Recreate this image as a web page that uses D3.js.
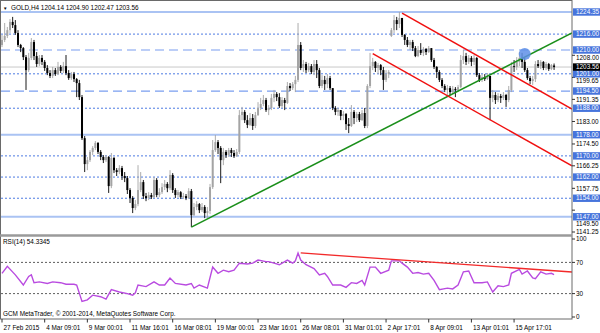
<!DOCTYPE html>
<html>
<head>
<meta charset="utf-8">
<script src="https://cdnjs.cloudflare.com/ajax/libs/d3/7.8.5/d3.min.js"></script>
<style>
  body { margin: 0; background: #fff; }
  text { font-family: "Liberation Sans", Arial, sans-serif; font-size: 6.4px; }
</style>
</head>
<body>
<div id="chart"></div>
<script>
// GOLD H4, 27 Feb - 17 Apr 2015
const titleText = "GOLD,H4 1204.14 1204.90 1202.47 1203.56";
const rsiTitle = "RSI(14) 54.3345";
const copyright = "GCM MetaTrader, \u00a9 2001-2014, MetaQuotes Software Corp.";

const opens = [1211.9,1213.8,1215.3,1217.5,1220.6,1219.4,1216.4,1211.9,1210.7,1207.3,
1202.4,1207.0,1213.0,1207.7,1204.7,1207.0,1205.5,1203.2,1201.3,1200.2,
1202.4,1200.9,1203.6,1202.1,1203.9,1201.3,1199.4,1200.9,1199.0,1197.5,
1192.2,1176.7,1166.9,1168.4,1171.5,1173.0,1174.9,1171.5,1169.6,1168.4,
1169.6,1158.6,1169.2,1164.6,1163.9,1165.4,1162.4,1161.6,1157.1,1154.1,
1150.3,1151.8,1157.1,1160.1,1154.8,1154.1,1155.2,1154.4,1160.9,1155.2,
1156.3,1158.2,1159.4,1157.8,1162.8,1157.1,1155.2,1156.3,1154.4,1154.8,
1154.1,1156.7,1147.6,1150.7,1151.8,1149.5,1150.7,1148.4,1149.2,1158.2,
1172.2,1175.2,1173.0,1168.4,1171.5,1170.3,1172.2,1171.1,1169.9,1171.5,
1185.4,1186.6,1183.5,1181.7,1184.3,1181.3,1185.4,1188.1,1189.6,1191.1,
1187.3,1188.1,1191.9,1193.4,1192.2,1188.8,1191.1,1190.0,1196.4,1195.6,
1197.1,1198.7,1211.9,1203.2,1204.7,1202.4,1203.9,1201.7,1204.7,1202.4,
1196.4,1198.7,1197.1,1199.4,1195.6,1188.1,1186.6,1187.3,1185.1,1185.8,
1182.0,1181.3,1186.6,1184.3,1185.8,1183.5,1186.2,1181.3,1196.4,1203.9,
1205.5,1203.2,1204.3,1202.4,1198.7,1200.9,1215.3,1217.5,1221.3,1219.8,
1222.1,1215.7,1213.8,1211.9,1213.0,1210.7,1207.7,1210.0,1208.9,1210.4,
1209.2,1210.7,1206.2,1203.6,1201.7,1198.7,1196.4,1194.9,1195.6,1194.1,
1195.3,1194.9,1196.0,1206.2,1207.7,1205.5,1207.0,1205.5,1207.0,1200.5,
1198.7,1199.8,1199.0,1200.2,1191.9,1193.0,1191.1,1192.6,1191.9,1193.0,
1191.1,1194.9,1203.9,1203.6,1205.5,1207.0,1205.5,1202.4,1199.4,1198.3,
1199.0,1204.7,1203.9,1205.5,1203.2,1204.7,1202.8,1204.14];

const highs = [1215.7,1220.2,1218.7,1221.7,1222.5,1221.3,1217.5,1212.3,1211.1,1208.1,
1208.9,1214.5,1213.8,1209.2,1208.1,1208.1,1206.2,1204.3,1202.4,1203.6,
1203.2,1205.5,1204.3,1205.5,1208.1,1202.4,1201.7,1201.7,1199.4,1198.7,
1193.0,1177.5,1169.6,1172.2,1173.7,1175.6,1175.2,1172.2,1170.3,1170.3,
1169.9,1171.1,1169.6,1165.4,1166.5,1166.2,1163.9,1162.4,1157.8,1154.8,
1153.3,1166.5,1163.9,1160.9,1156.0,1156.3,1156.0,1162.0,1161.6,1157.8,
1159.7,1160.9,1160.1,1164.6,1163.5,1157.8,1157.1,1156.7,1156.0,1155.6,
1157.8,1157.5,1152.2,1152.9,1152.2,1152.2,1151.4,1150.7,1159.4,1176.0,
1177.9,1176.0,1173.7,1173.0,1172.2,1173.0,1173.0,1172.2,1172.6,1187.3,
1188.5,1187.3,1185.4,1186.2,1185.8,1186.6,1190.3,1191.9,1193.0,1191.9,
1189.2,1193.4,1194.9,1194.1,1193.7,1192.2,1191.9,1197.9,1197.5,1197.9,
1200.2,1220.2,1213.0,1206.2,1205.5,1205.1,1204.7,1206.2,1206.2,1203.2,
1200.5,1200.2,1200.9,1200.2,1195.6,1188.8,1188.1,1187.3,1186.9,1186.2,
1184.3,1189.2,1187.3,1186.6,1186.6,1187.3,1188.1,1197.1,1208.9,1207.0,
1205.8,1205.1,1204.7,1203.6,1202.4,1202.4,1218.3,1223.2,1222.5,1224.35,
1222.1,1216.0,1214.9,1213.8,1213.8,1211.5,1211.5,1212.6,1211.1,1210.7,
1211.5,1210.7,1207.0,1203.9,1202.4,1199.4,1197.1,1196.8,1196.4,1196.4,
1196.0,1196.8,1208.1,1210.0,1208.9,1208.1,1207.7,1208.1,1207.3,1201.3,
1200.9,1200.9,1201.3,1200.2,1194.9,1194.1,1193.7,1193.4,1194.1,1193.4,
1196.4,1205.5,1206.2,1207.3,1209.2,1208.9,1207.0,1203.2,1200.2,1200.2,
1205.8,1206.2,1206.2,1205.8,1205.5,1205.1,1204.7,1204.90];

const lows = [1211.1,1213.0,1214.5,1216.4,1218.3,1215.7,1211.1,1209.2,1206.2,1194.9,
1201.7,1206.2,1206.2,1203.6,1203.9,1204.3,1202.1,1200.5,1199.4,1199.4,
1200.2,1200.5,1201.3,1201.3,1200.5,1198.7,1198.7,1197.9,1192.2,1191.1,
1176.0,1163.9,1164.6,1167.7,1170.3,1172.2,1170.7,1168.4,1167.3,1167.7,
1156.0,1157.8,1163.5,1162.4,1163.1,1160.9,1160.1,1155.6,1152.2,1148.4,
1149.5,1151.0,1156.3,1153.7,1152.9,1153.3,1153.7,1154.1,1154.4,1154.4,
1155.6,1157.1,1156.3,1157.1,1156.0,1154.1,1154.4,1153.7,1153.7,1153.3,
1153.7,1143.1,1147.3,1149.5,1148.4,1148.8,1146.5,1146.5,1148.0,1157.5,
1171.5,1170.7,1159.7,1166.5,1169.2,1169.6,1169.6,1169.2,1169.6,1170.7,
1183.5,1182.4,1180.5,1181.3,1179.8,1180.5,1185.1,1187.3,1188.8,1186.6,
1185.4,1187.3,1190.3,1190.7,1188.1,1188.1,1187.3,1189.6,1194.5,1194.9,
1194.1,1197.9,1202.4,1201.7,1201.3,1201.7,1200.9,1200.5,1199.4,1195.6,
1195.6,1194.9,1195.6,1194.9,1187.3,1185.4,1185.1,1183.5,1183.5,1179.8,
1178.6,1180.9,1182.0,1182.8,1182.8,1183.2,1180.5,1180.5,1195.6,1202.4,
1201.7,1200.9,1200.5,1194.9,1197.9,1199.4,1214.9,1216.4,1217.5,1218.3,
1214.9,1211.9,1211.1,1210.0,1209.6,1207.3,1207.3,1208.1,1207.7,1208.1,
1208.9,1205.5,1202.8,1199.4,1197.9,1195.6,1194.1,1193.0,1193.0,1193.4,
1192.2,1194.1,1195.6,1204.7,1204.3,1204.7,1203.9,1204.3,1199.8,1197.9,
1197.9,1198.3,1198.7,1183.5,1190.3,1189.6,1190.3,1190.0,1191.1,1188.5,
1190.3,1194.1,1201.7,1202.4,1203.9,1203.2,1201.7,1198.7,1197.1,1196.8,
1197.9,1203.2,1202.8,1202.4,1202.4,1202.1,1202.4,1202.47];

const closes = [1213.8,1215.3,1217.5,1220.6,1219.4,1216.4,1211.9,1210.7,1207.3,1202.4,
1207.0,1213.0,1207.7,1204.7,1207.0,1205.5,1203.2,1201.3,1200.2,1202.4,
1200.9,1203.6,1202.1,1203.9,1201.3,1199.4,1200.9,1199.0,1197.5,1192.2,
1176.7,1166.9,1168.4,1171.5,1173.0,1174.9,1171.5,1169.6,1168.4,1169.6,
1158.6,1169.2,1164.6,1163.9,1165.4,1162.4,1161.6,1157.1,1154.1,1150.3,
1151.8,1157.1,1160.1,1154.8,1154.1,1155.2,1154.4,1160.9,1155.2,1156.3,
1158.2,1159.4,1157.8,1162.8,1157.1,1155.2,1156.3,1154.4,1154.8,1154.1,
1156.7,1147.6,1150.7,1151.8,1149.5,1150.7,1148.4,1149.2,1158.2,1172.2,
1175.2,1173.0,1168.4,1171.5,1170.3,1172.2,1171.1,1169.9,1171.5,1185.4,
1186.6,1183.5,1181.7,1184.3,1181.3,1185.4,1188.1,1189.6,1191.1,1187.3,
1188.1,1191.9,1193.4,1192.2,1188.8,1191.1,1190.0,1196.4,1195.6,1197.1,
1198.7,1211.9,1203.2,1204.7,1202.4,1203.9,1201.7,1204.7,1202.4,1196.4,
1198.7,1197.1,1199.4,1195.6,1188.1,1186.6,1187.3,1185.1,1185.8,1182.0,
1181.3,1186.6,1184.3,1185.8,1183.5,1186.2,1181.3,1196.4,1203.9,1205.5,
1203.2,1204.3,1202.4,1198.7,1200.9,1201.7,1217.5,1221.3,1219.8,1222.1,
1215.7,1213.8,1211.9,1213.0,1210.7,1207.7,1210.0,1208.9,1210.4,1209.2,
1210.7,1206.2,1203.6,1201.7,1198.7,1196.4,1194.9,1195.6,1194.1,1195.3,
1194.9,1196.0,1206.2,1207.7,1205.5,1207.0,1205.5,1207.0,1200.5,1198.7,
1199.8,1199.0,1200.2,1191.9,1193.0,1191.1,1192.6,1191.9,1193.0,1191.1,
1194.9,1203.9,1203.6,1205.5,1207.0,1205.5,1202.4,1199.4,1198.3,1199.0,
1204.7,1203.9,1205.5,1203.2,1204.7,1202.8,1204.3,1203.56];

// RSI(14) read at the turning points of the line
const rsiBars = [0,2,5,8,10,11,12,14,17,19,22,24,27,28,30,32,34,37,39,41,44,47,49,50,51,54,57,59,61,63,65,69,71,72,74,77,79,81,83,85,87,89,92,94,96,99,100,102,104,107,109,110,111,112,114,117,119,121,122,124,127,129,131,133,135,136,138,140,142,145,146,149,150,152,154,156,158,160,162,164,167,169,171,173,175,177,180,182,184,186,188,190,191,194,195,197,199,200,202,204,206,207];
const rsiValues = [56,65,54,41,52,54,44,45,43,45,44,42,42,41,20,22,28,26,23,35,32,30,28,31,41,39,45,41,41,50,43,41,43,37,41,37,64,56,60,58,60,69,68,69,73,71,71,69,67,73,69,72,82,73,67,62,54,56,52,41,41,38,44,43,47,41,64,64,56,60,72,72,69,64,56,57,55,56,47,35,37,36,41,58,59,44,44,45,32,40,39,41,56,61,55,59,50,49,58,55,56,54.33];

const solidLevels = [1224.35, 1178.00, 1147.00];
const dashedLevels = [1210.00, 1194.50];
const dottedLevels = [1216.00, 1201.00, 1188.00, 1170.00, 1162.00, 1154.00];
const lastPrice = 1203.56;
const priceTicks = [1208.00, 1199.65, 1191.35, 1183.00, 1174.50, 1166.25, 1157.75, 1149.50, 1141.25];
const rsiTicks = [100, 70, 30, 0];
const rsiLevels = [70, 30];
const timeLabels = ["27 Feb 2015", "4 Mar 09:01", "9 Mar 00:01", "11 Mar 16:01", "16 Mar 08:01", "19 Mar 00:01",
  "23 Mar 16:01", "26 Mar 08:01", "31 Mar 01:01", "2 Apr 17:01", "8 Apr 09:01", "13 Apr 01:01", "15 Apr 17:01"];
const timeLabelBars = [0, 16, 32, 48, 64, 80, 96, 112, 128, 144, 160, 176, 192];

// trend lines: two anchors [bar, price], drawn as rays to the right edge
const greenTrend = [[71, 1143.1], [200, 1209.4]];
const redUpper = [[150, 1223.9], [200, 1195.5]];
const redLower = [[139, 1208.6], [200, 1174.0]];
const rsiTrend = [[112, 82.1], [200, 61.0]];
const markBar = 196, markPrice = 1208.5;

// ---- layout
const W = 600, H = 333;
const plotR = 572, mainTop = 1, mainBottom = 235, rsiBottom = 319;
const boxH = 7.4;

const svg = d3.select("#chart").append("svg")
    .attr("width", W).attr("height", H)
    .style("display", "block");

svg.append("rect").attr("width", W).attr("height", H).attr("fill", "#fff");

const x = d3.scaleLinear().domain([0, closes.length - 1]).range([2, 2 + (closes.length - 1) * 2.667]);
const y = d3.scaleLinear().domain([1141.25, 1224.35]).range([232, 12]);
const ry = d3.scaleLinear().domain([0, 100]).range([317, 239]);

svg.append("clipPath").attr("id", "clipMain")
  .append("rect").attr("x", 1).attr("y", mainTop).attr("width", plotR - 1).attr("height", mainBottom - mainTop);
svg.append("clipPath").attr("id", "clipRsi")
  .append("rect").attr("x", 1).attr("y", mainBottom + 2).attr("width", plotR - 1).attr("height", rsiBottom - mainBottom - 2);

const main = svg.append("g").attr("clip-path", "url(#clipMain)");
const sub = svg.append("g").attr("clip-path", "url(#clipRsi)");

function hline(g, vals, scale, stroke, width, dash) {
  g.selectAll(null).data(vals).enter().append("line")
    .attr("x1", 1).attr("x2", plotR)
    .attr("y1", d => scale(d)).attr("y2", d => scale(d))
    .attr("stroke", stroke).attr("stroke-width", width)
    .attr("stroke-dasharray", dash);
}

hline(main, solidLevels, y, "#aac3f3", 2, null);
hline(main, dashedLevels, y, "#7a9ef0", 1.2, "9,5");
hline(main, dottedLevels, y, "#4d7be2", 1, "2,2");
hline(main, [lastPrice], y, "#c8c8c8", 1, null);

// candles
const bars = d3.range(closes.length).map(i => ({ i, o: opens[i], h: highs[i], l: lows[i], c: closes[i] }));
const upCol = "#a4a4a4", downCol = "#000";

main.selectAll(".wick").data(bars).enter().append("line")
  .attr("x1", d => x(d.i)).attr("x2", d => x(d.i))
  .attr("y1", d => y(d.h)).attr("y2", d => y(d.l))
  .attr("stroke", d => d.c >= d.o ? upCol : downCol)
  .attr("stroke-width", 0.9);

main.selectAll(".body").data(bars).enter().append("rect")
  .attr("x", d => x(d.i) - 1)
  .attr("y", d => y(Math.max(d.o, d.c)))
  .attr("width", 2)
  .attr("height", d => Math.max(0.8, Math.abs(y(d.o) - y(d.c))))
  .attr("fill", d => d.c >= d.o ? upCol : downCol);

function ray(pts, ys) {
  const x1 = x(pts[0][0]), y1 = ys(pts[0][1]);
  const x2 = x(pts[1][0]), y2 = ys(pts[1][1]);
  const k = (y2 - y1) / (x2 - x1);
  return [[x1, y1], [plotR, y1 + k * (plotR - x1)]];
}

const line = d3.line();
main.append("path").attr("d", line(ray(greenTrend, y)))
  .attr("stroke", "#1a8f1a").attr("stroke-width", 1.5).attr("fill", "none");
main.append("path").attr("d", line(ray(redUpper, y)))
  .attr("stroke", "#f01010").attr("stroke-width", 1.5).attr("fill", "none");
main.append("path").attr("d", line(ray(redLower, y)))
  .attr("stroke", "#f01010").attr("stroke-width", 1.5).attr("fill", "none");

main.append("circle").attr("cx", x(markBar)).attr("cy", y(markPrice)).attr("r", 6)
  .attr("fill", "#5e8fe8").attr("opacity", 0.85);

// RSI panel
hline(sub, rsiLevels, ry, "#333", 0.8, "2,2");
sub.append("path")
  .attr("d", d3.line().x(d => x(d[0])).y(d => ry(d[1]))(rsiBars.map((b, k) => [b, rsiValues[k]])))
  .attr("stroke", "#b94be0").attr("stroke-width", 1.4).attr("fill", "none");
sub.append("path").attr("d", line(ray(rsiTrend, ry)))
  .attr("stroke", "#f22a2a").attr("stroke-width", 1.3).attr("fill", "none");

// frame
svg.append("rect").attr("x", 0.5).attr("y", 0.5).attr("width", plotR - 0.5).attr("height", rsiBottom - 0.5)
  .attr("fill", "none").attr("stroke", "#6a6a6a").attr("stroke-width", 1);
svg.append("line").attr("x1", 0).attr("x2", plotR).attr("y1", mainBottom + 0.5).attr("y2", mainBottom + 0.5)
  .attr("stroke", "#9a9a9a").attr("stroke-width", 2.5);

// right price axis
const axisG = svg.append("g");
const levelLabels = solidLevels.concat(dashedLevels, dottedLevels);
const boxYs = levelLabels.concat([lastPrice]).map(v => y(v));

// a tick label that would sit under a level box is pushed just below it
function tickLabelY(v) {
  let ty = y(v);
  boxYs.forEach(b => {
    if (Math.abs(ty - b) < boxH / 2 + 3.6) ty = Math.max(ty, b + boxH / 2 + 3.7);
  });
  return ty;
}

axisG.selectAll(null).data(priceTicks).enter().append("line")
  .attr("x1", plotR).attr("x2", plotR + 3).attr("y1", d => y(d)).attr("y2", d => y(d))
  .attr("stroke", "#333");
axisG.selectAll(null).data(priceTicks).enter().append("text")
  .attr("x", plotR + 4).attr("y", d => tickLabelY(d)).attr("dy", "0.35em")
  .text(d => d.toFixed(2));

const boxes = axisG.selectAll(null).data(levelLabels).enter().append("g")
  .attr("transform", d => "translate(" + (plotR + 1) + "," + y(d) + ")");
boxes.append("rect").attr("x", 0).attr("y", -boxH / 2).attr("width", 27).attr("height", boxH).attr("fill", "#4674dc");
boxes.append("text").attr("x", 3).attr("dy", "0.35em").attr("fill", "#fff").text(d => d.toFixed(2));

const lp = axisG.append("g").attr("transform", "translate(" + (plotR + 1) + "," + y(lastPrice) + ")");
lp.append("rect").attr("x", 0).attr("y", -boxH / 2).attr("width", 27).attr("height", boxH).attr("fill", "#000");
lp.append("text").attr("x", 3).attr("dy", "0.35em").attr("fill", "#fff").text(lastPrice.toFixed(2));

// RSI axis
axisG.selectAll(null).data(rsiTicks).enter().append("line")
  .attr("x1", plotR).attr("x2", plotR + 3).attr("y1", d => ry(d)).attr("y2", d => ry(d))
  .attr("stroke", "#333");
axisG.selectAll(null).data(rsiTicks).enter().append("text")
  .attr("x", plotR + 4).attr("y", d => ry(d)).attr("dy", "0.35em")
  .text(d => d);

// time axis
const tG = svg.append("g");
tG.selectAll(null).data(timeLabelBars).enter().append("line")
  .attr("x1", d => x(d)).attr("x2", d => x(d)).attr("y1", rsiBottom).attr("y2", rsiBottom + 3.5)
  .attr("stroke", "#333");
tG.selectAll(null).data(timeLabelBars).enter().append("text")
  .attr("x", d => x(d) + 1.5).attr("y", 330)
  .text((d, k) => timeLabels[k]);

// captions
svg.append("text").attr("x", 3).attr("y", 9.5).style("font-size", "4.5px").text("\u25bc");
svg.append("text").attr("x", 11).attr("y", 9.5).text(titleText);
svg.append("text").attr("x", 3).attr("y", 244).text(rsiTitle);
svg.append("text").attr("x", 3).attr("y", 316).text(copyright);
</script>
</body>
</html>
